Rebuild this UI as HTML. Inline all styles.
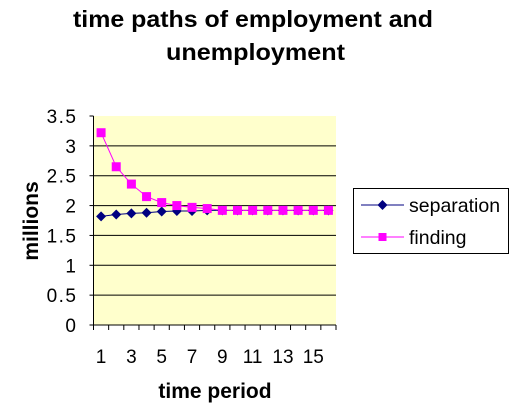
<!DOCTYPE html>
<html><head><meta charset="utf-8"><style>
body{margin:0;background:#fff;width:513px;height:406px;overflow:hidden;font-family:"Liberation Sans",Arial,sans-serif;}
</style></head><body>
<svg id="chart" width="513" height="406" xmlns="http://www.w3.org/2000/svg" font-family="Liberation Sans, Arial, sans-serif">
<text x="73" y="27" font-size="23" font-weight="bold" textLength="360" lengthAdjust="spacingAndGlyphs">time paths of employment and</text>
<text x="166" y="60" font-size="23" font-weight="bold" textLength="179" lengthAdjust="spacingAndGlyphs">unemployment</text>
<rect x="93.5" y="116" width="242.5" height="209" fill="#ffffcc"/>
<g id="grid"></g><g id="axes"></g><g id="series"></g>
<text transform="translate(38,221) rotate(-90)" font-size="21" font-weight="bold" text-anchor="middle">millions</text>
<text x="215" y="398" font-size="21" font-weight="bold" text-anchor="middle">time period</text>
<g>
<rect x="353.5" y="188.5" width="155" height="65" fill="#fff" stroke="#000"/>
<g>
<line x1="361" y1="205" x2="404" y2="205" stroke="#000080" stroke-width="1"/>
<path d="M382.5 200 L387.5 205 L382.5 210 L377.5 205 Z" fill="#000080"/>
<text x="409" y="212" font-size="19.5">separation</text></g>
<g>
<line x1="361" y1="237" x2="404" y2="237" stroke="#ff00ff" stroke-width="1"/>
<rect x="378.5" y="233" width="8" height="8" fill="#ff00ff"/>
<text x="409" y="244" font-size="19.5">finding</text></g>
</g>
</svg>
<script>
const categories=[1,2,3,4,5,6,7,8,9,10,11,12,13,14,15,16];
const separation=[1.82,1.85,1.87,1.88,1.90,1.91,1.91,1.92,1.92,1.92,1.92,1.92,1.92,1.92,1.92,1.92];
const finding=[3.22,2.65,2.36,2.15,2.05,2.00,1.97,1.95,1.92,1.92,1.92,1.92,1.92,1.92,1.92,1.92];
const yTicks=[0,0.5,1,1.5,2,2.5,3,3.5];
const xTickLabels=[1,3,5,7,9,11,13,15];
const NS="http://www.w3.org/2000/svg";
const L=93.5,R=336,T=116,B=325,yMax=3.5;
const bw=(R-L)/categories.length;
function y(v){return B-(v/yMax)*(B-T);}
function x(i){return L+bw*(i+0.5);}
function mk(tag,attrs,parent){const e=document.createElementNS(NS,tag);for(const k in attrs)e.setAttribute(k,attrs[k]);parent.appendChild(e);return e;}
const grid=document.getElementById('grid'),axes=document.getElementById('axes'),ser=document.getElementById('series');
yTicks.forEach(v=>{
 if(v>0&&v<yMax){const g=mk('line',{x1:L,x2:R,y1:y(v),y2:y(v),stroke:'#000','stroke-width':1},grid);
 
 }
 const t=mk('text',{x:L-16,y:y(v)+7,'font-size':19,'letter-spacing':1.5,'text-anchor':'end'},axes);t.textContent=v;
 
 
 mk('line',{x1:L-4,x2:L,y1:y(v),y2:y(v),stroke:'#000'},axes);
});
mk('line',{x1:L,x2:L,y1:T,y2:B,stroke:'#000'},axes);
mk('line',{x1:L,x2:R,y1:B,y2:B,stroke:'#000'},axes);
for(let i=0;i<=categories.length;i++)mk('line',{x1:L+bw*i,x2:L+bw*i,y1:B,y2:B+5,stroke:'#000'},axes);
categories.forEach((c,i)=>{if(xTickLabels.includes(c)){const t=mk('text',{x:x(i),y:363,'font-size':19,'text-anchor':'middle'},axes);t.textContent=c;
 
 }});
function drawLine(vals,color,name){
 const p=mk('polyline',{points:vals.map((v,i)=>x(i)+','+y(v)).join(' '),fill:'none',stroke:color,'stroke-width':1},ser);
 
 
}
drawLine(separation,'#000080','separation');
drawLine(finding,'#ff00ff','finding');
separation.forEach((v,i)=>{const m=mk('path',{d:`M${x(i)} ${y(v)-5} L${x(i)+5} ${y(v)} L${x(i)} ${y(v)+5} L${x(i)-5} ${y(v)} Z`,fill:'#000080'},ser);
 
 });
finding.forEach((v,i)=>{const m=mk('rect',{x:x(i)-4.5,y:y(v)-4.5,width:9,height:9,fill:'#ff00ff'},ser);
 
 });
</script>
</body></html>
